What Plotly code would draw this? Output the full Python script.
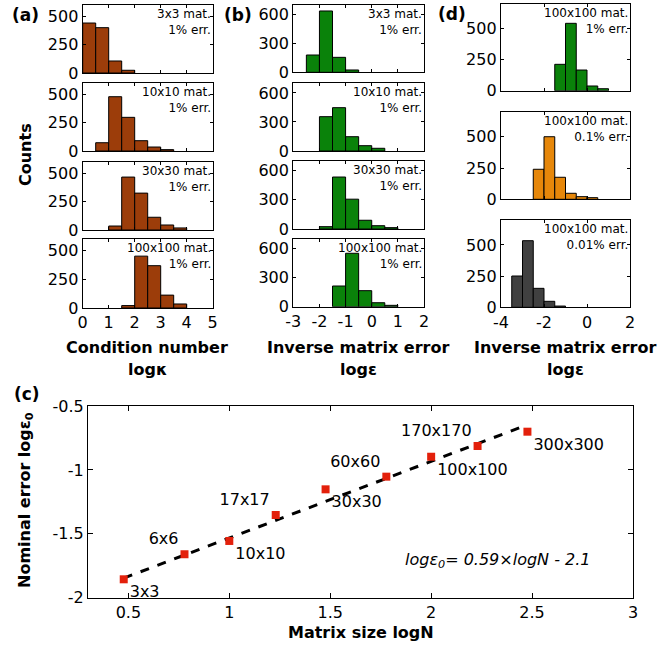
import plotly.graph_objects as go

# ---------------- data ----------------
# (a) condition number histograms (log kappa), bin width 0.5
a_labels = ["3x3 mat.<br>1% err.", "10x10 mat.<br>1% err.", "30x30 mat.<br>1% err.", "100x100 mat.<br>1% err."]
a_centers_3 = [0.25, 0.75, 1.25, 1.75]
a_counts_3 = [441, 400, 106, 24]
a_centers_10 = [0.75, 1.25, 1.75, 2.25, 2.75, 3.25]
a_counts_10 = [73, 479, 297, 91, 35, 12]
a_centers_30 = [1.25, 1.75, 2.25, 2.75, 3.25, 3.75]
a_counts_30 = [35, 465, 324, 112, 44, 18]
a_centers_100 = [1.75, 2.25, 2.75, 3.25, 3.75]
a_counts_100 = [21, 451, 368, 112, 35]

# (b) inverse matrix error histograms (log eps), bin width 0.5
b_labels = a_labels
b_centers_3 = [-2.25, -1.75, -1.25, -0.75]
b_counts_3 = [179, 635, 155, 24]
b_centers_10 = [-1.75, -1.25, -0.75, -0.25, 0.25]
b_counts_10 = [355, 448, 148, 55, 28]
b_centers_30 = [-1.75, -1.25, -0.75, -0.25, 0.25, 0.75]
b_counts_30 = [24, 535, 307, 90, 34, 14]
b_centers_100 = [-1.25, -0.75, -0.25, 0.25, 0.75]
b_counts_100 = [213, 550, 165, 41, 14]

# (d) 100x100 inverse matrix error for different nominal errors
d_labels = ["100x100 mat.<br>1% err.", "100x100 mat.<br>0.1% err.", "100x100 mat.<br>0.01% err."]
d_centers_1 = [-1.25, -0.75, -0.25, 0.25, 0.75]
d_counts_1 = [213, 544, 167, 38, 16]
d_centers_01 = [-2.25, -1.75, -1.25, -0.75, -0.25, 0.25]
d_counts_01 = [240, 500, 176, 48, 21, 13]
d_centers_001 = [-3.25, -2.75, -2.25, -1.75, -1.25]
d_counts_001 = [251, 534, 152, 48, 10]

# (c) nominal error vs matrix size
c_size_labels = ["3x3", "6x6", "10x10", "17x17", "30x30", "60x60", "100x100", "170x170", "300x300"]
c_log_n = [0.477, 0.778, 1.0, 1.230, 1.477, 1.778, 2.0, 2.230, 2.477]
c_log_eps0 = [-1.856, -1.66, -1.556, -1.353, -1.152, -1.053, -0.897, -0.813, -0.701]
fit_slope = 0.60
fit_intercept = -2.133

# ---------------- styling ----------------
W, H = 660, 648
FONT = "DejaVu Sans"
BROWN = "#9C3D0A"
GREEN = "#0A820A"
ORANGE = "#E6870A"
GRAY = "#404040"
RED = "#E3200B"

fig = go.Figure()
layout = {}
annotations = []


def px_dom_x(x0, x1):
    return [x0 / W, x1 / W]


def px_dom_y(y0, y1):
    return [1 - y1 / H, 1 - y0 / H]


def tick_text(vals):
    return [("%g" % v) for v in vals]


axis_count = [0]


def add_panel(xpx, ypx, xrange, yrange, xticks, yticks, show_xlabels, ticklen=4):
    axis_count[0] += 1
    i = axis_count[0]
    sfx = "" if i == 1 else str(i)
    common = dict(showline=True, linecolor="black", linewidth=1.3, mirror="ticks",
                  ticks="inside", ticklen=ticklen, tickwidth=1, tickcolor="black",
                  showgrid=False, zeroline=False, tickangle=0, automargin=False,
                  tickfont=dict(family=FONT, size=16, color="black"))
    layout["xaxis" + sfx] = dict(domain=px_dom_x(*xpx), range=xrange, tickvals=xticks,
                                 ticktext=tick_text(xticks),
                                 showticklabels=show_xlabels, anchor="y" + sfx, **common)
    layout["yaxis" + sfx] = dict(domain=px_dom_y(*ypx), range=yrange, tickvals=yticks,
                                 ticktext=tick_text(yticks), anchor="x" + sfx, **common)
    return "x" + sfx, "y" + sfx


def add_hist(xpx, ypx, xrange, yrange, xticks, yticks, show_xlabels, centers, counts, color, label):
    xa, ya = add_panel(xpx, ypx, xrange, yrange, xticks, yticks, show_xlabels, ticklen=3)
    fig.add_trace(go.Bar(x=centers, y=counts, width=0.5, xaxis=xa, yaxis=ya,
                         marker=dict(color=color, line=dict(color="black", width=1)),
                         showlegend=False))
    annotations.append(dict(text=label, xref=xa + " domain", yref=ya + " domain",
                            x=1.0, y=1.0, xanchor="right", yanchor="top", align="right",
                            showarrow=False, font=dict(family=FONT, size=12, color="black")))


# panel (a)
A_X = (82.7, 212.7)
A_Y = [(5, 73), (83, 151), (161.7, 230), (239, 308)]
a_sets = [(a_centers_3, a_counts_3), (a_centers_10, a_counts_10),
          (a_centers_30, a_counts_30), (a_centers_100, a_counts_100)]
for k, (c, n) in enumerate(a_sets):
    add_hist(A_X, A_Y[k], [0, 5], [0, 600], [0, 1, 2, 3, 4, 5], [0, 250, 500],
             k == 3, c, n, BROWN, a_labels[k])

# panel (b)
B_X = (293.3, 424)
B_Y = [(4.7, 72.3), (83.3, 151), (161, 229), (238.7, 306.7)]
b_sets = [(b_centers_3, b_counts_3), (b_centers_10, b_counts_10),
          (b_centers_30, b_counts_30), (b_centers_100, b_counts_100)]
for k, (c, n) in enumerate(b_sets):
    add_hist(B_X, B_Y[k], [-3, 2], [0, 700], [-3, -2, -1, 0, 1, 2], [0, 300, 600],
             k == 3, c, n, GREEN, b_labels[k])

# panel (d)
D_X = (501, 630)
D_Y = [(4, 90.7), (111.7, 199.3), (220, 307.3)]
d_sets = [(d_centers_1, d_counts_1, GREEN), (d_centers_01, d_counts_01, ORANGE),
          (d_centers_001, d_counts_001, GRAY)]
for k, (c, n, col) in enumerate(d_sets):
    add_hist(D_X, D_Y[k], [-4, 2], [0, 700], [-4, -2, 0, 2], [0, 250, 500],
             k == 2, c, n, col, d_labels[k])

# panel (c)
xa, ya = add_panel((88, 633), (406, 597.7), [0.3, 3], [-2, -0.5],
                   [0.5, 1, 1.5, 2, 2.5, 3], [-2, -1.5, -1, -0.5], True, ticklen=5)
fit_x = [min(c_log_n), max(c_log_n)]
fit_y = [fit_slope * v + fit_intercept for v in fit_x]
fig.add_trace(go.Scatter(x=fit_x, y=fit_y, mode="lines", xaxis=xa, yaxis=ya,
                         line=dict(color="black", width=3, dash="dash"), showlegend=False))
positions = ["bottom right" if k % 2 == 0 else "top left" for k in range(len(c_log_n))]
fig.add_trace(go.Scatter(x=c_log_n, y=c_log_eps0, mode="markers+text", xaxis=xa, yaxis=ya,
                         text=c_size_labels, textposition=positions,
                         textfont=dict(family=FONT, size=16, color="black"),
                         marker=dict(symbol="square", size=8, color=RED),
                         showlegend=False, cliponaxis=False))
annotations.append(dict(text="<i>logε<sub>0</sub>= 0.59×logN - 2.1</i>", xref=xa, yref=ya,
                        x=2.33, y=-1.705, showarrow=False,
                        font=dict(family=FONT, size=16, color="black")))

# ---------------- text labels ----------------
def paper_text(text, xp, yp, size=16, bold=True, angle=0):
    t = "<b>" + text + "</b>" if bold else text
    annotations.append(dict(text=t, xref="paper", yref="paper", x=xp / W, y=1 - yp / H,
                            xanchor="center", yanchor="middle", showarrow=False,
                            textangle=angle, font=dict(family=FONT, size=size, color="black")))


paper_text("(a)", 25, 15, size=17)
paper_text("(b)", 238, 15, size=17)
paper_text("(d)", 452, 14, size=17)
paper_text("(c)", 27, 394, size=17)
paper_text("Counts", 25, 155, angle=-90)
paper_text("Condition number", 147, 347)
paper_text("logκ", 147, 369)
paper_text("Inverse matrix error", 358, 347)
paper_text("logε", 358, 369)
paper_text("Inverse matrix error", 565, 347)
paper_text("logε", 565, 369)
paper_text("Matrix size logN", 361, 632)
paper_text("Nominal error logε<sub>0</sub>", 25, 500, angle=-90)

layout["annotations"] = annotations
fig.update_layout(**layout)
fig.update_layout(width=W, height=H, margin=dict(l=0, r=0, t=0, b=0, autoexpand=False),
                  paper_bgcolor="white", plot_bgcolor="white", barmode="overlay",
                  font=dict(family=FONT, color="black"))
fig.write_html("out.html", config={"displayModeBar": False},
               post_script="document.body.style.margin='0px';document.body.style.overflow='hidden';")
